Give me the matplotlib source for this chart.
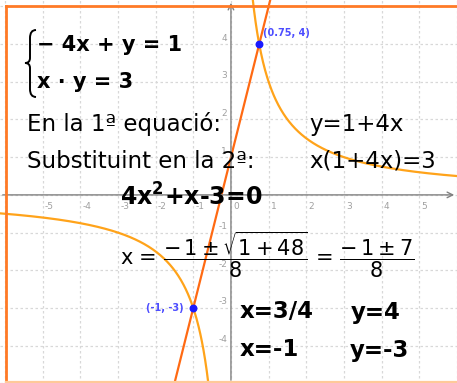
import numpy as np
import matplotlib
matplotlib.use("Agg")
import matplotlib.pyplot as plt
from matplotlib.path import Path
from matplotlib.patches import PathPatch

plt.rcParams['font.family'] = ['DejaVu Sans']
plt.rcParams['mathtext.fontset'] = 'dejavusans'
plt.rcParams['mathtext.default'] = 'regular'

# system: y = slope*x + intercept  and  x*y = k
slope = 4
intercept = 1
k = 3
sol_x = [0.75, -1]
sol_y = [4, -3]
sol_labels = ["(0.75, 4)", "(-1, -3)"]
xticks = [-5, -4, -3, -2, -1, 0, 1, 2, 3, 4, 5]
yticks = [-4, -3, -2, -1, 1, 2, 3, 4]

W, H = 457, 383
fig = plt.figure(figsize=(W / 100, H / 100), dpi=100)
ax = fig.add_axes([0, 0, 1, 1])
ax.set_xlim(-6.13, 6.0)
ax.set_ylim(-4.99, 5.17)
ax.axis('off')

# grid
for gx in range(-6, 7):
    ax.axvline(gx, color='#d8d8d8', lw=0.9, ls=(0, (2, 2)), zorder=0)
for gy in range(-5, 6):
    ax.axhline(gy, color='#d8d8d8', lw=0.9, ls=(0, (2, 2)), zorder=0)

# axes
ax.annotate('', xy=(6.0, 0), xytext=(-6.13, 0),
            arrowprops=dict(arrowstyle='->', color='#808080', lw=1.0))
ax.annotate('', xy=(0, 5.17), xytext=(0, -4.99),
            arrowprops=dict(arrowstyle='->', color='#808080', lw=1.0))
for t in xticks:
    ax.text(t + 0.06, -0.2, str(t), fontsize=6.5, color='#a0a0a0',
            ha='left', va='top')
for t in yticks:
    ax.text(-0.1, t + 0.04, str(t), fontsize=6.5, color='#a0a0a0', ha='right', va='bottom')

# curves
xs = np.linspace(-6.2, 6.1, 600)
ax.plot(xs, slope * xs + intercept, color='#ff6a13', lw=1.6, zorder=2)
xn = np.linspace(-6.2, -0.5, 400)
xp = np.linspace(0.5, 6.1, 400)
ax.plot(xn, k / xn, color='#ffa31a', lw=1.6, zorder=2)
ax.plot(xp, k / xp, color='#ffa31a', lw=1.6, zorder=2)

# intersection points
ax.scatter(sol_x, sol_y, s=22, color='#1a1aff', zorder=4)
ax.text(sol_x[0] + 0.1, sol_y[0] + 0.17, sol_labels[0], fontsize=7, color='#4d4dff',
        fontweight='bold', ha='left', va='bottom')
ax.text(sol_x[1] - 0.25, sol_y[1], sol_labels[1], fontsize=7, color='#4d4dff',
        fontweight='bold', ha='right', va='center')


def px(x, y):
    return x / W, 1 - y / H


tr = ax.transAxes

# brace
bp = [(36, 30), (30, 30), (30, 38), (30, 58), (30, 63), (25, 63),
      (30, 63), (30, 68), (30, 89), (30, 97), (36, 97)]
codes = [Path.MOVETO, Path.CURVE3, Path.CURVE3, Path.LINETO, Path.CURVE3, Path.CURVE3,
         Path.CURVE3, Path.CURVE3, Path.LINETO, Path.CURVE3, Path.CURVE3]
ax.add_patch(PathPatch(Path([px(a, b) for a, b in bp], codes), transform=tr,
                       fill=False, lw=1.4, color='black'))

ax.text(*px(37, 45), '− 4x + y = 1', fontsize=15, fontweight='bold', va='center', transform=tr)
ax.text(*px(37, 82), 'x · y = 3', fontsize=15, fontweight='bold', va='center', transform=tr)

ax.text(*px(27, 124), 'En la 1ª equació:', fontsize=16.5, va='center', transform=tr)
ax.text(*px(309, 124), 'y=1+4x', fontsize=16.5, va='center', transform=tr)
ax.text(*px(27, 161), 'Substituint en la 2ª:', fontsize=16.5, va='center', transform=tr)
ax.text(*px(309, 161), 'x(1+4x)=3', fontsize=16.5, va='center', transform=tr)
ax.text(*px(120, 197), r'4x$^{2}$+x-3=0', fontsize=17, fontweight='bold', va='center', transform=tr)

ax.text(*px(120, 255), r'x = $\dfrac{-\,1 \pm \sqrt{1 + 48}}{8}$ = $\dfrac{-\,1 \pm 7}{8}$',
        fontsize=15, va='center', transform=tr)

ax.text(*px(240, 312), 'x=3/4', fontsize=16.5, fontweight='bold', va='center', transform=tr)
ax.text(*px(351, 312), 'y=4', fontsize=16.5, fontweight='bold', va='center', transform=tr)
ax.text(*px(240, 350), 'x=-1', fontsize=16.5, fontweight='bold', va='center', transform=tr)
ax.text(*px(350, 350), 'y=-3', fontsize=16.5, fontweight='bold', va='center', transform=tr)

# frame
fig.add_artist(plt.Line2D([5.5 / W, 1], [1 - 5.5 / H, 1 - 5.5 / H], color='#ff7a26', lw=2.0))
fig.add_artist(plt.Line2D([5.5 / W, 5.5 / W], [0, 1 - 5.5 / H], color='#ff7a26', lw=2.0))
fig.add_artist(plt.Line2D([5.5 / W, 1], [1.2 / H, 1.2 / H], color='#ffc999', lw=1.6))

fig.savefig('out.png', dpi=100)
